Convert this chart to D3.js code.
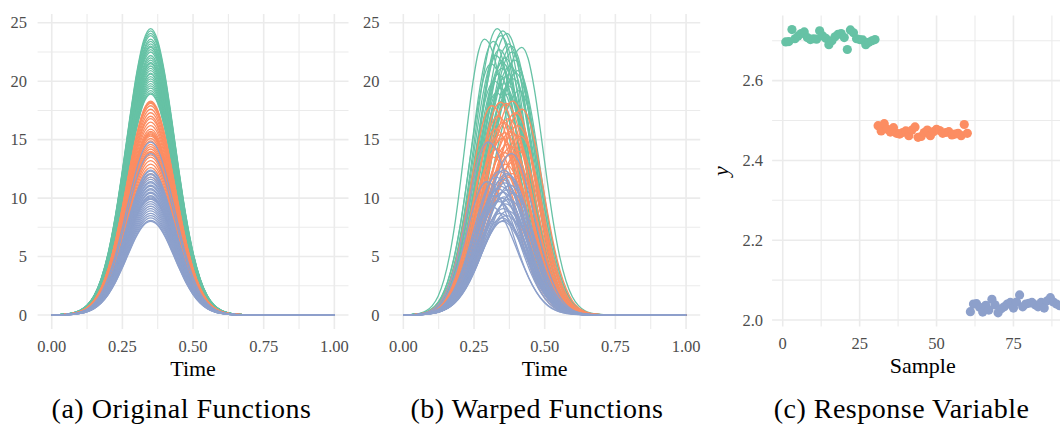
<!DOCTYPE html>
<html>
<head>
<meta charset="utf-8">
<script src="https://cdn.jsdelivr.net/npm/d3@7/dist/d3.min.js"></script>
<style>
  body { margin: 0; background: #fff; }
  svg { display: block; }
  text { font-family: "Liberation Serif", "DejaVu Serif", serif; }
</style>
</head>
<body>
<svg id="chart" width="1060" height="425"></svg>
<script>
// ---- data ----
const groupColors = ["#66c2a5", "#fc8d62", "#8da0cb"];

// peak height of each function (30 per group)
const ampGreen = [24.5, 24.3, 24.1, 23.9, 23.6, 23.4, 23.2, 22.9, 22.7, 22.5, 22.2, 22.0, 21.8, 21.5, 21.3,
                  21.1, 20.9, 20.6, 20.4, 20.2, 20.0, 19.8, 19.6, 19.4, 19.2, 19.0, 18.9, 23.0, 21.6, 20.7];
const ampOrange = [18.3, 18.2, 18.1, 17.9, 17.6, 17.3, 17.0, 16.8, 16.5, 16.2, 15.9, 15.7, 15.6, 15.5, 15.4,
                   15.3, 15.1, 14.9, 14.6, 14.4, 14.2, 14.0, 13.9, 13.7, 13.5, 13.2, 12.9, 12.6, 12.1, 11.8];
const ampPurple = [14.8, 13.8, 12.4, 12.3, 12.1, 12.0, 11.8, 11.6, 11.4, 11.3, 11.1, 11.0, 10.8, 10.7, 10.5,
                   10.4, 10.2, 10.1, 10.0, 9.9, 9.7, 9.5, 9.3, 9.1, 8.9, 8.7, 8.5, 8.3, 8.1, 8.0];

// peak time of the original functions
const peakOriginal = 0.35;
// peak time of each warped function
const peakGreen = [0.332, 0.352, 0.366, 0.345, 0.287, 0.318, 0.372, 0.419, 0.340, 0.385, 0.327, 0.360, 0.395, 0.310, 0.378,
                   0.348, 0.405, 0.336, 0.362, 0.390, 0.322, 0.355, 0.372, 0.343, 0.410, 0.330, 0.368, 0.383, 0.350, 0.398];
const peakOrange = [0.387, 0.344, 0.365, 0.313, 0.420, 0.398, 0.335, 0.372, 0.355, 0.405, 0.326, 0.380, 0.360, 0.392, 0.341,
                    0.415, 0.350, 0.300, 0.368, 0.383, 0.330, 0.410, 0.357, 0.376, 0.318, 0.395, 0.362, 0.346, 0.385, 0.370];
const peakPurple = [0.300, 0.383, 0.356, 0.340, 0.365, 0.372, 0.328, 0.350, 0.295, 0.360, 0.378, 0.345, 0.335, 0.368, 0.352,
                    0.388, 0.322, 0.358, 0.347, 0.375, 0.338, 0.362, 0.310, 0.354, 0.370, 0.343, 0.365, 0.349, 0.357, 0.351];

// shape of one bump: distance from the peak vs. fraction of peak height
const bumpOffset = [0, 0.025, 0.05, 0.075, 0.1, 0.125, 0.15, 0.175, 0.2, 0.225, 0.25, 0.275, 0.3, 0.35];
const bumpRatio  = [1, 0.958, 0.842, 0.68, 0.505, 0.345, 0.218, 0.127, 0.068, 0.034, 0.016, 0.007, 0.003, 0];

// response variable per sample
const yGreen = [2.697, 2.698, 2.728, 2.705, 2.712, 2.718, 2.722, 2.708, 2.703, 2.705, 2.704, 2.725, 2.712, 2.706, 2.690,
                2.700, 2.710, 2.716, 2.718, 2.708, 2.678, 2.727, 2.720, 2.705, 2.703, 2.702, 2.690, 2.696, 2.700, 2.703];
const yOrange = [2.487, 2.474, 2.492, 2.478, 2.471, 2.482, 2.468, 2.466, 2.470, 2.474, 2.462, 2.476, 2.484, 2.458, 2.460,
                 2.470, 2.476, 2.462, 2.472, 2.478, 2.475, 2.468, 2.470, 2.472, 2.464, 2.466, 2.468, 2.462, 2.490, 2.468];
const yPurple = [2.021, 2.040, 2.041, 2.032, 2.020, 2.037, 2.025, 2.052, 2.038, 2.018, 2.028, 2.033, 2.040, 2.044, 2.030,
                 2.045, 2.063, 2.033, 2.040, 2.042, 2.044, 2.038, 2.033, 2.044, 2.030, 2.048, 2.056, 2.045, 2.040, 2.036];

const timeTicks = [0, 0.25, 0.5, 0.75, 1];
const timeMinor = [0.125, 0.375, 0.625, 0.875];
const valueTicks = [0, 5, 10, 15, 20, 25];
const valueMinor = [2.5, 7.5, 12.5, 17.5, 22.5];
const sampleTicks = [0, 25, 50, 75];
const sampleMinor = [12.5, 37.5, 62.5, 87.5];
const respTicks = [2.0, 2.2, 2.4, 2.6];
const respMinor = [2.1, 2.3, 2.5, 2.7];
const captions = ["(a) Original Functions", "(b) Warped Functions", "(c) Response Variable"];

// ---- drawing ----
const svg = d3.select("#chart");
const gridCol = "#ebebeb";
const tickCol = "#4d4d4d";

function drawGrid(x, y, xt, xm, yt, ym) {
    const g = svg.append("g");
    const [x0, x1] = x.range();
    const [y0, y1] = y.range();
    const addV = (vals, w) => g.append("g").selectAll("line").data(vals).join("line")
        .attr("x1", d => x(d)).attr("x2", d => x(d)).attr("y1", y0).attr("y2", y1)
        .attr("stroke", gridCol).attr("stroke-width", w);
    const addH = (vals, w) => g.append("g").selectAll("line").data(vals).join("line")
        .attr("y1", d => y(d)).attr("y2", d => y(d)).attr("x1", x0).attr("x2", x1)
        .attr("stroke", gridCol).attr("stroke-width", w);
    addV(xm, 1.1); addH(ym, 1.1);
    addV(xt, 1.6); addH(yt, 1.6);
}

function drawLabels(x, y, xt, yt, xfmt, yfmt, xLabY, yLabX, title, titleY) {
    const g = svg.append("g");
    g.selectAll(".xl").data(xt).join("text")
        .attr("x", d => x(d)).attr("y", xLabY)
        .attr("text-anchor", "middle").attr("fill", tickCol).style("font-size", "16.5px")
        .text(xfmt);
    g.selectAll(".yl").data(yt).join("text")
        .attr("x", yLabX).attr("y", d => y(d)).attr("dy", "0.34em")
        .attr("text-anchor", "end").attr("fill", tickCol).style("font-size", "16.5px")
        .text(yfmt);
    const [x0, x1] = x.range();
    g.append("text").attr("x", (x0 + x1) / 2).attr("y", titleY)
        .attr("text-anchor", "middle").attr("fill", "#000").style("font-size", "22px")
        .text(title);
}

// points of one function: bump centred on its peak, time axis stretched
// on each side so that 0 and 1 stay fixed (piecewise linear warp)
function bumpPoints(amp, peak) {
    const sl = peak / peakOriginal;
    const sr = (1 - peak) / (1 - peakOriginal);
    const pts = [];
    for (let j = bumpOffset.length - 1; j >= 0; j--) pts.push([peak - bumpOffset[j] * sl, amp * bumpRatio[j]]);
    for (let j = 1; j < bumpOffset.length; j++) pts.push([peak + bumpOffset[j] * sr, amp * bumpRatio[j]]);
    if (pts[0][0] > 1e-6) pts.unshift([0, 0]);
    if (pts[pts.length - 1][0] < 1 - 1e-6) pts.push([1, 0]);
    return pts;
}

const yFun = d3.scaleLinear().domain([-1.2, 25.75]).range([329, 14]);
const xA = d3.scaleLinear().domain([-0.05, 1.05]).range([37.6, 348.5]);
const xB = d3.scaleLinear().domain([-0.05, 1.05]).range([389.2, 700.2]);
const xC = d3.scaleLinear().domain([-3.45, 94.45]).range([772.1, 1073.3]);
const yC = d3.scaleLinear().domain([1.984, 2.763]).range([326.4, 15.6]);

const fmt2 = d3.format(".2f");
const fmt1 = d3.format(".1f");

drawGrid(xA, yFun, timeTicks, timeMinor, valueTicks, valueMinor);
drawGrid(xB, yFun, timeTicks, timeMinor, valueTicks, valueMinor);
drawGrid(xC, yC, sampleTicks, sampleMinor, respTicks, respMinor);

drawLabels(xA, yFun, timeTicks, valueTicks, fmt2, d => d, 351.5, 27, "Time", 376);
drawLabels(xB, yFun, timeTicks, valueTicks, fmt2, d => d, 351.5, 379.5, "Time", 376);
drawLabels(xC, yC, sampleTicks, respTicks, d => d, fmt1, 349, 763, "Sample", 373);

svg.append("text")
    .attr("transform", `translate(728, ${(yC.range()[0] + yC.range()[1]) / 2}) rotate(-90)`)
    .attr("text-anchor", "middle").style("font-size", "22px").style("font-style", "italic")
    .text("y");

const amps = [ampGreen, ampOrange, ampPurple];
const warpedPeaks = [peakGreen, peakOrange, peakPurple];

function drawCurves(x, warped) {
    const line = d3.line().x(d => x(d[0])).y(d => yFun(d[1])).curve(d3.curveMonotoneX);
    const g = svg.append("g").attr("fill", "none").attr("stroke-width", 1.3);
    amps.forEach((list, k) => {
        g.append("g").attr("stroke", groupColors[k])
            .selectAll("path")
            .data(list.map((a, i) => bumpPoints(a, warped ? warpedPeaks[k][i] : peakOriginal)))
            .join("path")
            .attr("d", line);
    });
}
drawCurves(xA, false);
drawCurves(xB, true);

// scatter of the response
[yGreen, yOrange, yPurple].forEach((vals, k) => {
    svg.append("g").attr("fill", groupColors[k])
        .selectAll("circle")
        .data(vals)
        .join("circle")
        .attr("cx", (d, i) => xC(k * 30 + i + 1))
        .attr("cy", d => yC(d))
        .attr("r", 4.6);
});

// sub-captions
const capX = [181.5, 537, 901.5];
svg.selectAll(".cap").data(captions).join("text")
    .attr("x", (d, i) => capX[i]).attr("y", 418)
    .attr("text-anchor", "middle")
    .style("font-size", "28px").style("letter-spacing", "0.5px")
    .text(d => d);
</script>
</body>
</html>
